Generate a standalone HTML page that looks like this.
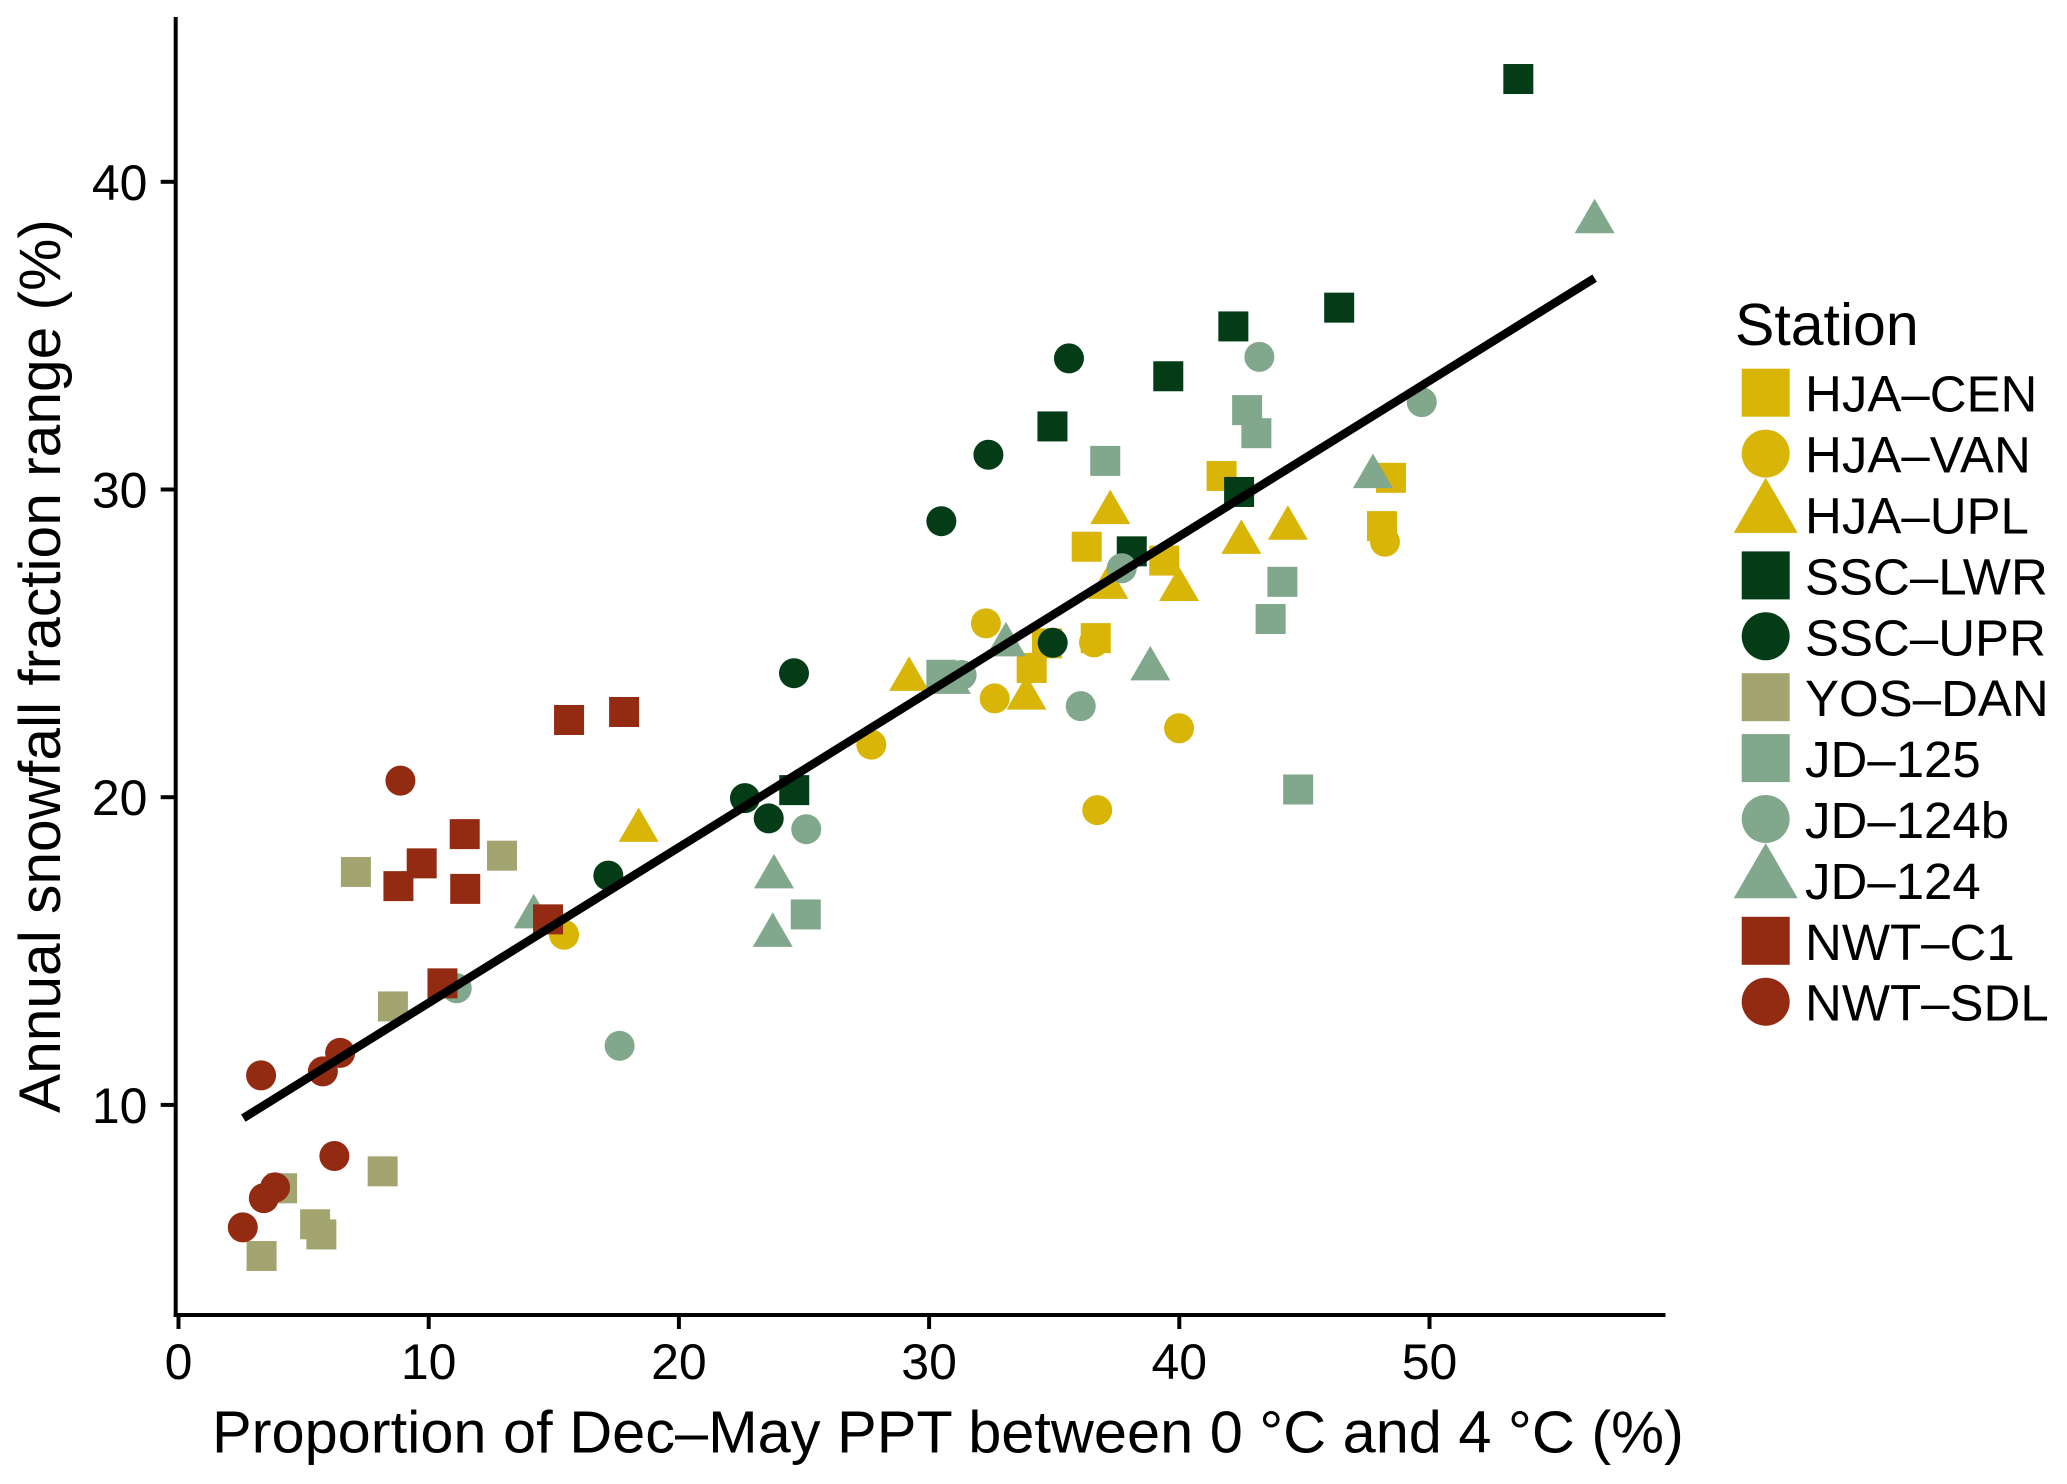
<!DOCTYPE html>
<html lang="en">
<head>
<meta charset="utf-8">
<title>Annual snowfall fraction range vs proportion of PPT</title>
<style>
html,body{margin:0;padding:0;background:#fff;width:2067px;height:1484px;overflow:hidden}
svg{display:block}
text{font-family:"Liberation Sans",Arial,sans-serif;fill:#000}
</style>
</head>
<body>
<svg id="chart" xmlns="http://www.w3.org/2000/svg" width="2067" height="1484" viewBox="0 0 2067 1484">
  <rect x="0" y="0" width="2067" height="1484" fill="#ffffff"/>
  <g id="marks"></g>
  <g id="fit"></g>
  <line x1="175.7" y1="17" x2="175.7" y2="1317" stroke="#000" stroke-width="4"/>
  <line x1="173.7" y1="1315" x2="1665.5" y2="1315" stroke="#000" stroke-width="4"/>
  <g id="xticks"></g>
  <g id="yticks"></g>
  <text x="212" y="1452.7" font-size="59.5">Proportion of Dec–May PPT between 0 °C and 4 °C (%)</text>
  <text x="60" y="1113" font-size="58.7" transform="rotate(-90 60 1113)">Annual snowfall fraction range (%)</text>
  <g id="legend">
    <text x="1735" y="345" font-size="59">Station</text>
  </g>
</svg>
<script>
const hjaCen = [[41.69,30.44],[48.46,30.38],[48.10,28.81],[36.30,28.14],[39.40,27.69],[36.66,25.17],[34.71,25.0],[34.10,24.2]];
const hjaVan = [[48.22,28.30],[32.27,25.65],[36.59,25.03],[32.62,23.21],[39.99,22.24],[27.69,21.71],[36.72,19.58],[15.41,15.53]];
const hjaUpl = [[37.24,29.25],[44.34,28.74],[42.48,28.28],[39.99,26.75],[37.16,26.82],[29.2,23.83],[33.89,23.22],[18.39,18.92]];
const sscLwr = [[53.55,43.34],[46.39,35.91],[42.16,35.30],[39.56,33.68],[34.93,32.05],[42.39,29.92],[38.10,27.99],[24.61,20.23]];
const sscUpr = [[35.59,34.26],[32.37,31.13],[30.49,28.97],[34.94,25.02],[24.6,24.03],[22.64,19.97],[23.59,19.31],[17.18,17.45]];
const yosDan = [[7.09,17.57],[12.93,18.10],[8.57,13.2],[8.16,7.84],[4.14,7.29],[5.46,6.12],[5.71,5.79],[3.32,5.09]];
const jd125 = [[42.71,32.58],[43.08,31.83],[37.04,30.93],[44.12,27.0],[43.65,25.79],[30.49,23.98],[44.75,20.25],[25.07,16.19]];
const jd124b = [[43.2,34.31],[49.69,32.84],[37.7,27.44],[31.3,23.97],[36.06,22.96],[25.09,18.96],[11.12,13.79],[17.63,11.92]];
const jd124 = [[56.6,38.7],[47.74,30.42],[33.07,24.95],[38.84,24.17],[30.87,23.73],[23.8,17.41],[14.2,16.11],[23.75,15.51]];
const nwtC1 = [[15.61,22.51],[17.81,22.77],[11.44,18.8],[9.72,17.85],[8.79,17.11],[11.46,17.02],[14.77,16.03],[10.55,13.95]];
const nwtSdl = [[8.87,20.54],[6.46,11.69],[5.77,11.09],[3.3,10.96],[6.23,8.34],[3.86,7.32],[3.41,6.97],[2.57,6.02]];

const stationNames = ['HJA–CEN','HJA–VAN','HJA–UPL','SSC–LWR','SSC–UPR','YOS–DAN','JD–125','JD–124b','JD–124','NWT–C1','NWT–SDL'];
const stationValues = [hjaCen,hjaVan,hjaUpl,sscLwr,sscUpr,yosDan,jd125,jd124b,jd124,nwtC1,nwtSdl];
const fitX = [2.59,56.6];
const fitY = [9.57,36.87];
const xTickValues = [0,10,20,30,40,50];
const yTickValues = [10,20,30,40];

const stationColors = ['#d8b507','#d8b507','#d8b507','#033c17','#033c17','#a3a570','#81a78c','#81a78c','#81a78c','#932a12','#932a12'];
const stationShapes = ['square','circle','triangle','square','circle','square','square','circle','triangle','square','circle'];

const NS = 'http://www.w3.org/2000/svg';
function xScale(v){ return 178.5 + 25.02 * v; }
function yScale(v){ return 1412.6 - 30.77 * v; }

function slug(s){ return s.toLowerCase().replace('–','-'); }

function makeShape(shape, cx, cy, s, color){
  let el;
  if(shape === 'square'){
    el = document.createElementNS(NS,'rect');
    el.setAttribute('x', cx - s/2);
    el.setAttribute('y', cy - s/2);
    el.setAttribute('width', s);
    el.setAttribute('height', s);
  } else if(shape === 'circle'){
    el = document.createElementNS(NS,'circle');
    el.setAttribute('cx', cx);
    el.setAttribute('cy', cy);
    el.setAttribute('r', s/2);
  } else {
    const w = s * 4/3, h = s * 1.15;
    el = document.createElementNS(NS,'polygon');
    el.setAttribute('points', (cx-w/2)+','+(cy+h/3)+' '+(cx+w/2)+','+(cy+h/3)+' '+cx+','+(cy-2*h/3));
  }
  el.setAttribute('fill', color);
  return el;
}

const marks = document.getElementById('marks');
stationValues.forEach(function(points, i){
  const group = document.createElementNS(NS,'g');
  
  
  points.forEach(function(p){
    const m = makeShape(stationShapes[i], xScale(p[0]), yScale(p[1]), 30, stationColors[i]);
    
    
    group.appendChild(m);
  });
  marks.appendChild(group);
});

const fitLine = document.createElementNS(NS,'line');
fitLine.setAttribute('x1', xScale(fitX[0]));
fitLine.setAttribute('y1', yScale(fitY[0]));
fitLine.setAttribute('x2', xScale(fitX[1]));
fitLine.setAttribute('y2', yScale(fitY[1]));
fitLine.setAttribute('stroke', '#000');
fitLine.setAttribute('stroke-width', '8.5');


document.getElementById('fit').appendChild(fitLine);

const xticks = document.getElementById('xticks');
xTickValues.forEach(function(v){
  const t = document.createElementNS(NS,'line');
  t.setAttribute('x1', xScale(v));
  t.setAttribute('x2', xScale(v));
  t.setAttribute('y1', 1315);
  t.setAttribute('y2', 1329);
  t.setAttribute('stroke', '#000');
  t.setAttribute('stroke-width', '4');
  
  
  xticks.appendChild(t);
  const l = document.createElementNS(NS,'text');
  l.setAttribute('x', xScale(v));
  l.setAttribute('y', 1379);
  l.setAttribute('text-anchor', 'middle');
  l.setAttribute('font-size', '50');
  
  
  l.textContent = v;
  xticks.appendChild(l);
});

const yticks = document.getElementById('yticks');
yTickValues.forEach(function(v){
  const t = document.createElementNS(NS,'line');
  t.setAttribute('x1', 160.7);
  t.setAttribute('x2', 175.7);
  t.setAttribute('y1', yScale(v));
  t.setAttribute('y2', yScale(v));
  t.setAttribute('stroke', '#000');
  t.setAttribute('stroke-width', '4');
  
  
  yticks.appendChild(t);
  const l = document.createElementNS(NS,'text');
  l.setAttribute('x', 147.5);
  l.setAttribute('y', yScale(v) + 18);
  l.setAttribute('text-anchor', 'end');
  l.setAttribute('font-size', '50');
  
  
  l.textContent = v;
  yticks.appendChild(l);
});

const legend = document.getElementById('legend');
stationNames.forEach(function(name, i){
  const rowY = 392.7 + i * 60.9;
  const entry = document.createElementNS(NS,'g');
  
  
  const sym = makeShape(stationShapes[i], 1765.7, rowY, 48, stationColors[i]);
  
  
  entry.appendChild(sym);
  const txt = document.createElementNS(NS,'text');
  txt.setAttribute('x', 1805);
  txt.setAttribute('y', rowY + 19);
  txt.setAttribute('font-size', '51');
  
  
  txt.textContent = name;
  entry.appendChild(txt);
  legend.appendChild(entry);
});
</script>
</body>
</html>
